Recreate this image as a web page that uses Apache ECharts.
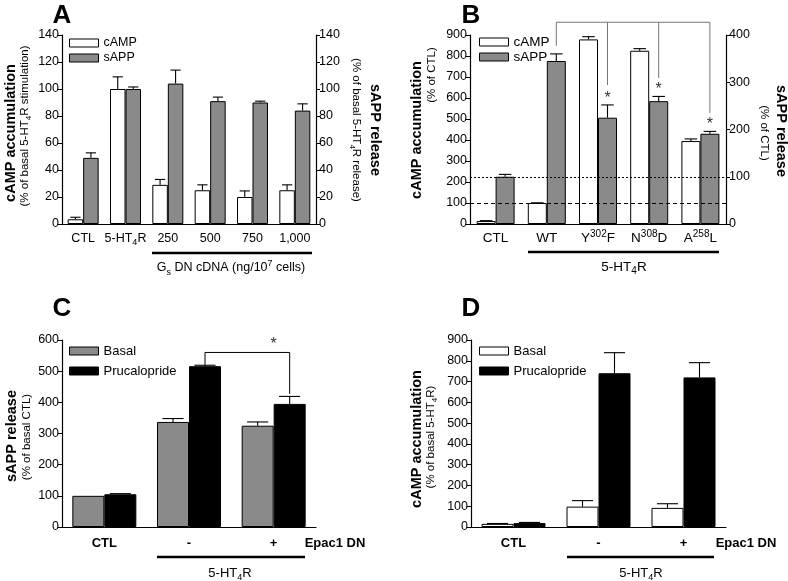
<!DOCTYPE html>
<html><head><meta charset="utf-8">
<script src="https://cdn.jsdelivr.net/npm/echarts@6/dist/echarts.min.js"></script>
<style>html,body{margin:0;padding:0;background:#fff}#c{width:788px;height:581px}</style>
</head><body><div id="c"></div>
<script>
// ---------- Panel A ----------
const catA = ['CTL', '5-HT_4_R', '250', '500', '750', '1,000'];
const cAMP_A = [3.5, 100, 29, 25, 20, 25];
const cAMP_A_sem = [1.5, 9, 4, 4, 4.5, 4];
const sAPP_A = [49, 100, 104, 91, 90, 84];
const sAPP_A_sem = [3.7, 1.5, 10, 3, 1, 5];
const ticksA = [0, 20, 40, 60, 80, 100, 120, 140];

// ---------- Panel B ----------
const catB = ['CTL', 'WT', 'Y^302^F', 'N^308^D', 'A^258^L'];
const cAMP_B = [14, 100, 879, 825, 395];
const cAMP_B_sem = [2, 1, 13, 10, 10];
const sAPP_B = [100, 345, 225, 260, 191];
const sAPP_B_sem = [5, 15, 27, 10, 5];
const ticksB_left = [0, 100, 200, 300, 400, 500, 600, 700, 800, 900];
const ticksB_right = [0, 100, 200, 300, 400];
const bracketB_top = 427;
const bracketB_cats = [1, 2, 3, 4];
const bracketB_ends = [377, 294, 309, 235];
const starB_cats = [2, 3, 4];
const starB_vals = [266, 285, 211];

// ---------- Panel C ----------
const catC = ['CTL', '-', '+'];
const basal_C = [100, 337, 325];
const basal_C_sem = [0, 11, 12];
const pruc_C = [105, 516, 395];
const pruc_C_sem = [2, 3, 24];
const ticksC = [0, 100, 200, 300, 400, 500, 600];
const bracketC_top = 560;
const bracketC_cats = [1, 2];
const bracketC_ends = [520, 427];
const starC_val = 586;

// ---------- Panel D ----------
const catD = ['CTL', '-', '+'];
const basal_D = [15, 98, 92];
const basal_D_sem = [2, 29, 20];
const pruc_D = [19, 740, 720];
const pruc_D_sem = [3, 99, 71];
const ticksD = [0, 100, 200, 300, 400, 500, 600, 700, 800, 900];

const FONT = "'Liberation Sans', Arial, Helvetica, sans-serif";
const GREY = '#8a8a8a';

function toRich(s) {
  let r = '{t|' + s.replace(/_(\w+)_/g, '}{s|$1}{t|').replace(/\^(\w+)\^/g, '}{p|$1}{t|') + '}';
  return r.replace(/\{t\|\}/g, '');
}
function richStyles(fs, bold) {
  const w = bold ? 'bold' : 'normal';
  const sm = Math.round(fs * 0.72);
  return {
    t: {fontSize: fs, fontWeight: w, fontFamily: FONT, color: '#000', lineHeight: fs + 5},
    s: {fontSize: sm, fontWeight: w, fontFamily: FONT, color: '#000', lineHeight: sm, verticalAlign: 'bottom'},
    p: {fontSize: sm, fontWeight: w, fontFamily: FONT, color: '#000', lineHeight: sm, verticalAlign: 'top'}
  };
}

function xCat(gi, cats, fs, bold, margin) {
  return {
    type: 'category', gridIndex: gi, data: cats, boundaryGap: true,
    axisLine: {lineStyle: {color: '#000', width: 1.2}},
    axisTick: {show: false},
    axisLabel: {interval: 0, margin: margin, formatter: v => toRich(v), rich: richStyles(fs, bold)}
  };
}
function yVal(gi, ticks, pos) {
  return {
    type: 'value', gridIndex: gi, position: pos,
    min: ticks[0], max: ticks[ticks.length - 1], interval: ticks[1] - ticks[0],
    axisLine: {show: true, lineStyle: {color: '#000', width: 1.2}},
    axisTick: {show: true, length: 4, lineStyle: {color: '#000', width: 1}},
    splitLine: {show: false},
    axisLabel: {fontSize: 12.5, color: '#000', margin: 3, fontFamily: FONT}
  };
}
function bar(name, xi, yi, data, color, bw, extra) {
  return Object.assign({
    name: name, type: 'bar', xAxisIndex: xi, yAxisIndex: yi, data: data,
    barWidth: bw, barGap: '0%',
    itemStyle: {color: color, borderColor: '#000', borderWidth: 1},
    emphasis: {disabled: true}, silent: true
  }, extra || {});
}
function err(xi, yi, vals, sems, side, bw) {
  return {
    type: 'custom', xAxisIndex: xi, yAxisIndex: yi, clip: false, z: 5, silent: true,
    data: vals.map((v, i) => [i, v, v + sems[i]]),
    renderItem: function (params, api) {
      const v = api.value(1), t = api.value(2);
      if (!(t > v)) return null;
      const p0 = api.coord([api.value(0), v]);
      const p1 = api.coord([api.value(0), t]);
      const x = p0[0] + side * bw / 2;
      const cw = bw * 0.33;
      const st = {stroke: '#000', lineWidth: 1.1, fill: null};
      return {type: 'group', children: [
        {type: 'line', shape: {x1: x, y1: p0[1], x2: x, y2: p1[1]}, style: st},
        {type: 'line', shape: {x1: x - cw, y1: p1[1], x2: x + cw, y2: p1[1]}, style: st}
      ]};
    }
  };
}
function bracket(xi, yi, cats, ends, top, side, bw, color) {
  return {
    type: 'custom', xAxisIndex: xi, yAxisIndex: yi, clip: false, z: 6, silent: true,
    data: cats.map((c, i) => [c, ends[i]]),
    renderItem: function (params, api) {
      const st = {stroke: color, lineWidth: 1, fill: null};
      const pe = api.coord([api.value(0), api.value(1)]);
      const pt = api.coord([api.value(0), top]);
      const x = pe[0] + side * bw / 2;
      const ch = [{type: 'line', shape: {x1: x, y1: pt[1], x2: x, y2: pe[1]}, style: st}];
      if (params.dataIndex === 0) {
        const pl = api.coord([cats[cats.length - 1], top]);
        ch.push({type: 'line', shape: {x1: x, y1: pt[1], x2: pl[0] + side * bw / 2, y2: pt[1]}, style: st});
      }
      return {type: 'group', children: ch};
    }
  };
}
function stars(xi, yi, cats, vals, side, bw) {
  return {
    type: 'custom', xAxisIndex: xi, yAxisIndex: yi, clip: false, z: 6, silent: true,
    data: cats.map((c, i) => [c, vals[i]]),
    renderItem: function (params, api) {
      const p = api.coord([api.value(0), api.value(1)]);
      return {type: 'text', x: p[0] + side * bw / 2, y: p[1],
        style: {text: '*', fontSize: 16, fontFamily: FONT, fill: '#333', align: 'center', verticalAlign: 'middle',
          textAlign: 'center', textVerticalAlign: 'middle'}};
    }
  };
}
function legend(left, top, items, gap, fs) {
  return {
    orient: 'vertical', left: left, top: top, padding: 0, itemGap: gap,
    itemWidth: 29, itemHeight: 8, selectedMode: false,
    itemStyle: {borderColor: '#000', borderWidth: 1},
    textStyle: {fontSize: fs, color: '#000', fontFamily: FONT, lineHeight: 14},
    data: items.map(it => ({name: it[0], icon: 'rect', itemStyle: {color: it[1], borderColor: '#000', borderWidth: 1}}))
  };
}
function txt(x, y, s, fs, bold, rot) {
  return {
    type: 'text', x: x, y: y, rotation: rot || 0, silent: true,
    style: {text: toRich(s), rich: richStyles(fs, bold), fill: '#000', fontSize: fs, fontFamily: FONT,
      fontWeight: bold ? 'bold' : 'normal', align: 'center', verticalAlign: 'middle',
      textAlign: 'center', textVerticalAlign: 'middle'}
  };
}
function hline(x1, x2, y, w) {
  return {type: 'line', silent: true, shape: {x1: x1, y1: y, x2: x2, y2: y}, style: {stroke: '#000', lineWidth: w}};
}

const BW_A = 15.5, BW_B = 19, BW_C = 32, BW_D = 32;
const R = Math.PI / 2;

const option = {
  backgroundColor: '#fff',
  animation: false,
  textStyle: {fontFamily: FONT},
  grid: [
    {left: 62, top: 35, width: 254, height: 189, outerBoundsMode: 'none'},
    {left: 470, top: 35, width: 256, height: 189, outerBoundsMode: 'none'},
    {left: 62, top: 340, width: 254, height: 187, outerBoundsMode: 'none'},
    {left: 471, top: 340, width: 255, height: 187, outerBoundsMode: 'none'}
  ],
  xAxis: [
    xCat(0, catA, 12.5, false, 6),
    xCat(1, catB, 13.5, false, 5),
    xCat(2, catC, 13, true, 7),
    xCat(3, catD, 13, true, 7)
  ],
  yAxis: [
    yVal(0, ticksA, 'left'),
    yVal(0, ticksA, 'right'),
    yVal(1, ticksB_left, 'left'),
    yVal(1, ticksB_right, 'right'),
    yVal(2, ticksC, 'left'),
    yVal(3, ticksD, 'left')
  ],
  legend: [
    legend(69, 36, [['cAMP', '#fff'], ['sAPP', GREY]], 1, 12.5),
    legend(479, 35, [['cAMP', '#fff'], ['sAPP', GREY]], 1, 13.5),
    legend(69, 344, [['Basal', GREY], ['Prucalopride', '#000']], 6, 13),
    legend(479, 344, [['Basal', '#fff'], ['Prucalopride', '#000']], 6, 13)
  ],
  series: [
    bar('cAMP', 0, 0, cAMP_A, '#fff', BW_A),
    bar('sAPP', 0, 1, sAPP_A, GREY, BW_A),
    err(0, 0, cAMP_A, cAMP_A_sem, -1, BW_A),
    err(0, 1, sAPP_A, sAPP_A_sem, 1, BW_A),

    bar('cAMP', 1, 2, cAMP_B, '#fff', BW_B, {markLine: {silent: true, symbol: ['none', 'none'], label: {show: false},
      lineStyle: {type: [4, 3], color: '#000', width: 1}, data: [{yAxis: 100}]}}),
    bar('sAPP', 1, 3, sAPP_B, GREY, BW_B, {markLine: {silent: true, symbol: ['none', 'none'], label: {show: false},
      lineStyle: {type: [2, 2], color: '#000', width: 1}, data: [{yAxis: 100}]}}),
    err(1, 2, cAMP_B, cAMP_B_sem, -1, BW_B),
    err(1, 3, sAPP_B, sAPP_B_sem, 1, BW_B),
    bracket(1, 3, bracketB_cats, bracketB_ends, bracketB_top, 1, BW_B, '#777'),
    stars(1, 3, starB_cats, starB_vals, 1, BW_B),

    bar('Basal', 2, 4, basal_C, GREY, BW_C),
    bar('Prucalopride', 2, 4, pruc_C, '#000', BW_C),
    err(2, 4, basal_C, basal_C_sem, -1, BW_C),
    err(2, 4, pruc_C, pruc_C_sem, 1, BW_C),
    bracket(2, 4, bracketC_cats, bracketC_ends, bracketC_top, 1, BW_C, '#000'),
    stars(2, 4, [1.5], [starC_val], 1, 0),

    bar('Basal', 3, 5, basal_D, '#fff', BW_D),
    bar('Prucalopride', 3, 5, pruc_D, '#000', BW_D),
    err(3, 5, basal_D, basal_D_sem, -1, BW_D),
    err(3, 5, pruc_D, pruc_D_sem, 1, BW_D)
  ],
  graphic: [
    txt(62, 16, 'A', 26, true), txt(471, 16, 'B', 26, true),
    txt(62, 309, 'C', 26, true), txt(471, 309, 'D', 26, true),

    txt(11, 133, 'cAMP accumulation', 14.5, true, R),
    txt(25, 126, '(% of basal 5-HT_4_R stimulation)', 11.5, false, R),
    txt(356, 130, '(% of basal 5-HT_4_R release)', 11.5, false, -R),
    txt(375, 130, 'sAPP release', 14.5, true, -R),
    hline(152, 312, 253, 2.5),
    txt(231, 268, 'G_s_ DN cDNA (ng/10^7^ cells)', 12.5, false),

    txt(417, 130, 'cAMP accumulation', 14.5, true, R),
    txt(432, 75, '(% of CTL)', 11.5, false, R),
    txt(781, 131, 'sAPP release', 14.5, true, -R),
    txt(764, 133, '(% of CTL)', 11.5, false, -R),
    hline(528, 719, 252, 2.5),
    txt(624, 267, '5-HT_4_R', 13.5, false),

    txt(12, 436, 'sAPP release', 14.5, true, R),
    txt(27, 437, '(% of basal CTL)', 11.5, false, R),
    txt(335, 543, 'Epac1 DN', 13, true),
    hline(157, 305, 557, 2.5),
    txt(230, 573, '5-HT_4_R', 13, false),

    txt(417, 439, 'cAMP accumulation', 14.5, true, R),
    txt(431, 437, '(% of basal 5-HT_4_R)', 11.5, false, R),
    txt(746, 543, 'Epac1 DN', 13, true),
    hline(567, 714, 557, 2.5),
    txt(641, 573, '5-HT_4_R', 13, false)
  ]
};

const chart = echarts.init(document.getElementById('c'));
chart.setOption(option);
</script>
</body></html>
